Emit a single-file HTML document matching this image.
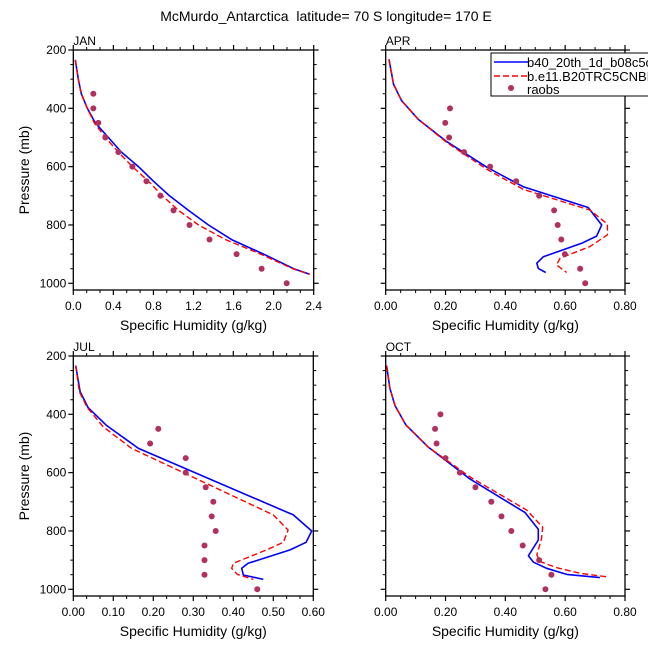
<!DOCTYPE html>
<html><head><meta charset="utf-8"><style>
html,body{margin:0;padding:0;background:#fff;}
svg{display:block;font-family:"Liberation Sans",sans-serif;}
</style></head><body>
<svg id="chart" width="648" height="649" viewBox="0 0 648 649">
<text x="326" y="21" font-size="14" text-anchor="middle">McMurdo_Antarctica&#160; latitude= 70 S longitude= 170 E</text>
</svg>
<script>
// ---- data ----
const janBlueP=[234,300,350,400,450,500,550,600,650,700,750,800,850,900,950,969];
const janBlueQ=[0.02,0.05,0.08,0.14,0.22,0.35,0.48,0.65,0.80,0.96,1.15,1.35,1.58,1.90,2.20,2.36];
const janRedP=[234,300,350,400,450,500,550,600,650,700,750,800,850,900,950,969];
const janRedQ=[0.02,0.05,0.08,0.14,0.21,0.32,0.45,0.59,0.75,0.89,1.05,1.25,1.52,1.87,2.19,2.36];
const janObsP=[350,400,450,500,550,600,650,700,750,800,850,900,950,1000];
const janObsQ=[0.20,0.20,0.25,0.32,0.45,0.59,0.73,0.87,1.00,1.16,1.36,1.63,1.88,2.13];

const aprBlueP=[232,317,374,438,514,602,669,740,800,838,863,909,931,949,963];
const aprBlueQ=[0.011,0.026,0.053,0.109,0.204,0.338,0.46,0.677,0.722,0.705,0.655,0.527,0.505,0.51,0.535];
const aprRedP=[232,317,374,438,517,609,678,749,797,834,874,914,937,963];
const aprRedQ=[0.011,0.026,0.053,0.109,0.204,0.338,0.46,0.683,0.741,0.741,0.683,0.583,0.571,0.605];
const aprObsP=[400,450,500,550,600,650,700,750,800,850,900,950,1000];
const aprObsQ=[0.215,0.199,0.212,0.262,0.349,0.436,0.513,0.563,0.575,0.587,0.599,0.65,0.667];

const julBlueP=[233,322,377,437,517,745,800,839,865,911,928,951,966];
const julBlueQ=[0.006,0.017,0.037,0.082,0.163,0.55,0.596,0.582,0.542,0.437,0.421,0.425,0.475];
const julRedP=[233,322,377,443,517,745,797,839,865,911,928,949,966];
const julRedQ=[0.006,0.015,0.035,0.075,0.146,0.50,0.537,0.525,0.483,0.40,0.396,0.41,0.45];
const julObsP=[450,500,550,600,650,700,750,800,850,900,950,1000];
const julObsQ=[0.2125,0.192,0.281,0.281,0.331,0.35,0.346,0.356,0.328,0.328,0.328,0.46];

const octBlueP=[233,311,370,437,513,622,737,794,831,885,907,928,949,960];
const octBlueQ=[0.003,0.014,0.031,0.068,0.143,0.282,0.466,0.51,0.51,0.477,0.494,0.538,0.605,0.716];
const octRedP=[233,311,370,437,513,617,728,787,827,882,905,926,945,957];
const octRedQ=[0.003,0.014,0.031,0.068,0.143,0.285,0.471,0.525,0.521,0.505,0.516,0.572,0.65,0.739];
const octObsP=[400,450,500,550,600,650,700,750,800,850,900,950,1000];
const octObsQ=[0.183,0.165,0.17,0.2,0.248,0.3,0.353,0.387,0.42,0.458,0.513,0.554,0.534];

const pTicks=[200,400,600,800,1000];
const janXTicks=["0.0","0.4","0.8","1.2","1.6","2.0","2.4"];
const aprXTicks=["0.00","0.20","0.40","0.60","0.80"];
const julXTicks=["0.00","0.10","0.20","0.30","0.40","0.50","0.60"];
const octXTicks=["0.00","0.20","0.40","0.60","0.80"];

const NS='http://www.w3.org/2000/svg';
const svg=document.getElementById('chart');
function mk(tag,attrs,parent){const e=document.createElementNS(NS,tag);for(const k in attrs)e.setAttribute(k,attrs[k]);(parent||svg).appendChild(e);return e;}

function panel(o){
  const g=mk('g',{});
  
  
  const L=o.x0,R=o.x1,T=o.y0,B=o.y0+240;
  const pMin=200,pMax=1023;
  const xs=q=>L+(q-o.qmin)/(o.qmax-o.qmin)*(R-L);
  const ys=p=>T+(p-pMin)/(pMax-pMin)*(B-T);
  for(let p=250;p<1000;p+=50){ if(p%200===0) continue;
    mk('line',{x1:L-3,x2:L,y1:ys(p),y2:ys(p),stroke:'#000','stroke-width':1},g);
    mk('line',{x1:R,x2:R+3,y1:ys(p),y2:ys(p),stroke:'#000','stroke-width':1},g);}
  const nMaj=o.ticks.length-1;
  for(let i=0;i<nMaj;i++){for(let k=1;k<o.minor;k++){
    const q=o.qmin+(i+k/o.minor)*(o.qmax-o.qmin)/nMaj;
    mk('line',{x1:xs(q),x2:xs(q),y1:T-3,y2:T,stroke:'#000','stroke-width':1},g);
    mk('line',{x1:xs(q),x2:xs(q),y1:B,y2:B+3,stroke:'#000','stroke-width':1},g);}}
  pTicks.forEach(p=>{
    mk('line',{x1:L-5,x2:L,y1:ys(p),y2:ys(p),stroke:'#000','stroke-width':1.2},g);
    mk('line',{x1:R,x2:R+5,y1:ys(p),y2:ys(p),stroke:'#000','stroke-width':1.2},g);
    if(o.ylabels){const t=mk('text',{x:L-7,y:ys(p)+4,'font-size':12,'text-anchor':'end'},g);t.textContent=p;
      
      }
  });
  o.ticks.forEach((lab,i)=>{
    const q=o.qmin+i*(o.qmax-o.qmin)/nMaj;
    mk('line',{x1:xs(q),x2:xs(q),y1:T-5,y2:T,stroke:'#000','stroke-width':1.2},g);
    mk('line',{x1:xs(q),x2:xs(q),y1:B,y2:B+5,stroke:'#000','stroke-width':1.2},g);
    const t=mk('text',{x:xs(q),y:B+20,'font-size':12,'text-anchor':'middle'},g);t.textContent=lab;
    
    
  });
  const cp=mk('clipPath',{id:'clip-'+o.name},g);
  mk('rect',{x:L,y:T,width:R-L,height:B-T},cp);
  const pts=(P,Q)=>P.map((p,i)=>xs(Q[i]).toFixed(1)+','+ys(p).toFixed(1)).join(' ');
  const bl=mk('polyline',{points:pts(o.bp,o.bq),fill:'none',stroke:'#0000ff','stroke-width':1.6,'stroke-linejoin':'round','clip-path':'url(#clip-'+o.name+')'},g);
  
  
  const rl=mk('polyline',{points:pts(o.rp,o.rq),fill:'none',stroke:'#ff0000','stroke-width':1.4,'stroke-dasharray':'6,3','clip-path':'url(#clip-'+o.name+')'},g);
  
  
  o.op.forEach((p,i)=>{
    const c=mk('circle',{cx:xs(o.oq[i]),cy:ys(p),r:3,fill:'#b0305e'},g);
    
    
  });
  const fr=mk('rect',{x:L,y:T,width:R-L,height:B-T,fill:'none',stroke:'#000','stroke-width':1.3},g);
  
  
  const lb=mk('text',{x:L,y:T-5,'font-size':12},g);lb.textContent=o.label;
  
  
  const xt=mk('text',{x:(L+R)/2,y:B+40,'font-size':14,'text-anchor':'middle'},g);xt.textContent='Specific Humidity (g/kg)';
  
  
  if(o.ylabels){const cy=(T+B)/2;const yt=mk('text',{x:0,y:0,'font-size':14,'text-anchor':'middle',transform:'translate(29,'+cy+') rotate(-90)'},g);yt.textContent='Pressure (mb)';
    
    }
}
panel({name:'jan',label:'JAN',x0:73.3,x1:313.7,y0:50,qmin:0,qmax:2.4,ticks:janXTicks,minor:3,ylabels:true,bp:janBlueP,bq:janBlueQ,rp:janRedP,rq:janRedQ,op:janObsP,oq:janObsQ});
panel({name:'apr',label:'APR',x0:385.7,x1:625,y0:50,qmin:0,qmax:0.8,ticks:aprXTicks,minor:4,ylabels:false,bp:aprBlueP,bq:aprBlueQ,rp:aprRedP,rq:aprRedQ,op:aprObsP,oq:aprObsQ});
panel({name:'jul',label:'JUL',x0:73.3,x1:313.3,y0:356,qmin:0,qmax:0.6,ticks:julXTicks,minor:3,ylabels:true,bp:julBlueP,bq:julBlueQ,rp:julRedP,rq:julRedQ,op:julObsP,oq:julObsQ});
panel({name:'oct',label:'OCT',x0:385.7,x1:625,y0:356,qmin:0,qmax:0.8,ticks:octXTicks,minor:4,ylabels:false,bp:octBlueP,bq:octBlueQ,rp:octRedP,rq:octRedQ,op:octObsP,oq:octObsQ});

const lg=mk('g',{});


mk('rect',{x:491,y:53,width:170,height:43,fill:'#fff',stroke:'#000','stroke-width':1},lg);
mk('line',{x1:494,x2:528,y1:62,y2:62,stroke:'#0000ff','stroke-width':1.6},lg);
mk('line',{x1:494,x2:528,y1:76,y2:76,stroke:'#ff0000','stroke-width':1.4,'stroke-dasharray':'6,3'},lg);
mk('circle',{cx:511,cy:88,r:3,fill:'#b0305e'},lg);
const lt=[['b40_20th_1d_b08c5cn',67],['b.e11.B20TRC5CNBDRD',81],['raobs',94]];
lt.forEach(a=>{const t=mk('text',{x:527,y:a[1],'font-size':13},lg);t.textContent=a[0];
  
  });
</script>
</body></html>
